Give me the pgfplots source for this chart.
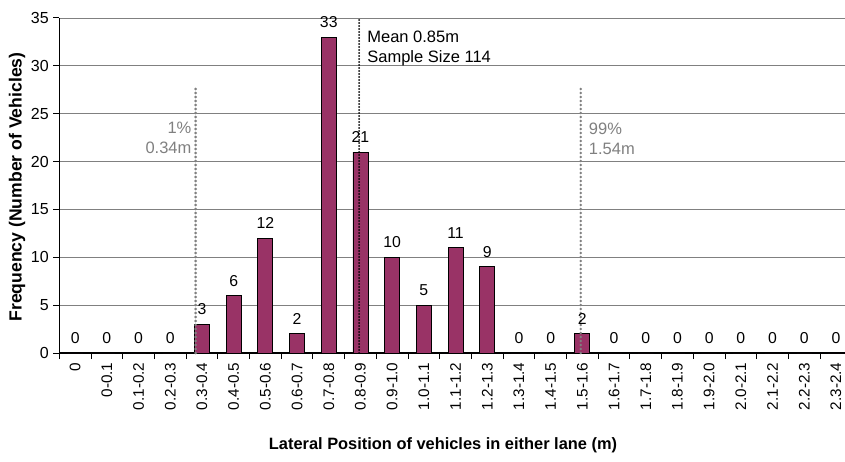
\documentclass[border=0pt]{standalone}
\usepackage{pgfplots}
\pgfplotsset{compat=1.18}
\usepackage{fontspec}
\setmainfont{Liberation Sans}
\definecolor{barc}{HTML}{993366}
\definecolor{gridc}{HTML}{808080}
\definecolor{txtg}{HTML}{808080}
\newcommand{\tf}{\fontsize{15.3}{18}\selectfont}
\newcommand{\df}{\fontsize{15.8}{18}\selectfont}
\newcommand{\yf}{\fontsize{16}{18}\selectfont}
\newcommand{\af}{\fontsize{16.5}{20}\selectfont}
\begin{document}
\begin{tikzpicture}[x=1pt,y=1pt]
\useasboundingbox (-59.3,-108) rectangle (785.7,353);
\begin{axis}[
  scale only axis, width=792.5pt, height=335pt,
  ybar, bar width=15pt,
  ymin=0, ymax=35, ytick={0,5,...,35},
  xmin=-0.5, xmax=24.5,
  xtick={0,...,24},
  xticklabels={0,0-0.1,0.1-0.2,0.2-0.3,0.3-0.4,0.4-0.5,0.5-0.6,0.6-0.7,0.7-0.8,0.8-0.9,0.9-1.0,1.0-1.1,1.1-1.2,1.2-1.3,1.3-1.4,1.4-1.5,1.5-1.6,1.6-1.7,1.7-1.8,1.8-1.9,1.9-2.0,2.0-2.1,2.1-2.2,2.2-2.3,2.3-2.4},
  minor xtick={-0.5,0.5,...,24.5},
  axis lines=left,
  axis line style={-, line width=1.3pt},
  every outer x axis line/.append style={-},
  every outer y axis line/.append style={-},
  every inner x axis line/.append style={-},
  every inner y axis line/.append style={-},
  tick align=outside, tick pos=left,
  major tick length=6pt, minor tick length=6pt,
  tick style={black, line width=1pt},
  major x tick style={draw=none},
  ymajorgrids, grid style={gridc, line width=0.8pt},
  xticklabel style={rotate=90, anchor=east, font=\tf},
  yticklabel style={font=\yf, xshift=-1pt},
  /pgf/number format/assume math mode=true,
  nodes near coords,
  every node near coord/.append style={font=\df, black, yshift=5.5pt},
  clip=false,
]
\addplot[fill=barc, draw=black, line width=0.8pt] coordinates {
(0,0) (1,0) (2,0) (3,0) (4,3) (5,6) (6,12) (7,2) (8,33) (9,21) (10,10) (11,5) (12,11) (13,9) (14,0) (15,0) (16,2) (17,0) (18,0) (19,0) (20,0) (21,0) (22,0) (23,0) (24,0)};
\draw[gridc, line width=2.8pt, line cap=round, dash pattern=on 0pt off 4pt] (axis cs:3.8,0) -- (axis cs:3.8,27.7);
\draw[gridc, line width=2.8pt, line cap=round, dash pattern=on 0pt off 4pt] (axis cs:15.95,0) -- (axis cs:15.95,27.7);
\draw[black, line width=2pt, line cap=round, dash pattern=on 0pt off 3pt] (axis cs:8.96,0) -- (axis cs:8.96,34.8);
\node[anchor=north east, align=right, txtg, inner sep=0pt, font=\af] at ([xshift=-4pt]axis cs:3.8,24.1) {1\%\\0.34m};
\node[anchor=north west, align=left, txtg, inner sep=0pt, font=\af] at ([xshift=8pt]axis cs:15.95,24.1) {99\%\\1.54m};
\node[anchor=north west, align=left, black, inner sep=0pt, font=\af] at ([xshift=8pt]axis cs:8.96,33.65) {Mean 0.85m\\Sample Size 114};
\end{axis}
\node[rotate=90, font=\bfseries\fontsize{17.6}{19}\selectfont] at (-42.3,166) {Frequency (Number of Vehicles)};
\node[font=\bfseries\fontsize{16.4}{18}\selectfont] at (383.7,-92) {Lateral Position of vehicles in either lane (m)};
\end{tikzpicture}
\end{document}
